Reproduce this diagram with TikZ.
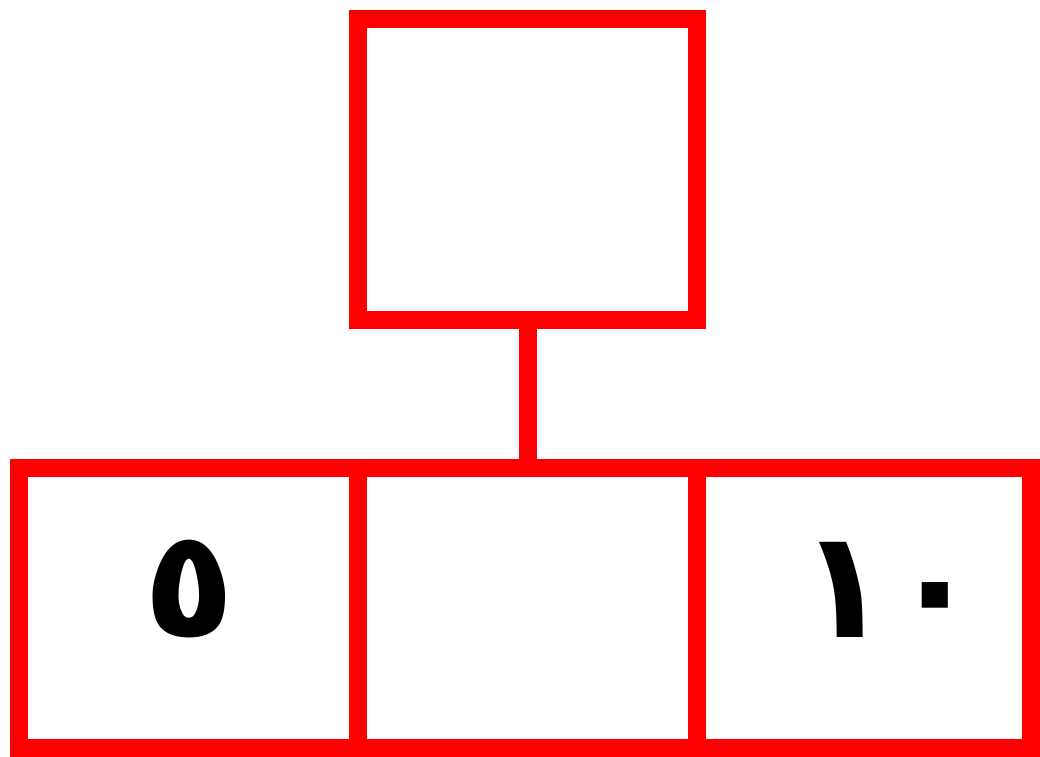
\documentclass[tikz,border=0pt]{standalone}
\usepackage{fontspec}
\newfontfamily\arabicfont[Script=Arabic]{DejaVu Sans}
\definecolor{boxred}{RGB}{255,0,0}
\tikzset{
  redbox/.style={draw=boxred, line width=18pt, inner sep=0pt, outer sep=0pt, fill=white},
  digit/.style={inner sep=0pt, font=\arabicfont\bfseries\fontsize{150}{150}\selectfont, text=black}
}
\begin{document}
\begin{tikzpicture}[x=1pt,y=-1pt]
  \useasboundingbox[fill=white] (0,0) rectangle (1040,756);
  \node[redbox, minimum width=339pt, minimum height=301pt] (top) at (527.5,169.5) {};
  \node[redbox, minimum width=339pt, minimum height=280pt] (left) at (188.5,608) {};
  \node[redbox, minimum width=339pt, minimum height=280pt] (mid) at (527.5,608) {};
  \node[redbox, minimum width=334pt, minimum height=280pt] (right) at (864,608) {};
  \draw[boxred, line width=18pt] (top.south) -- (mid.north);
  \node[digit] (five) at (189,589) {٥};
  \node[digit] (ten) at (890,590) {١٠};
\end{tikzpicture}
\end{document}
